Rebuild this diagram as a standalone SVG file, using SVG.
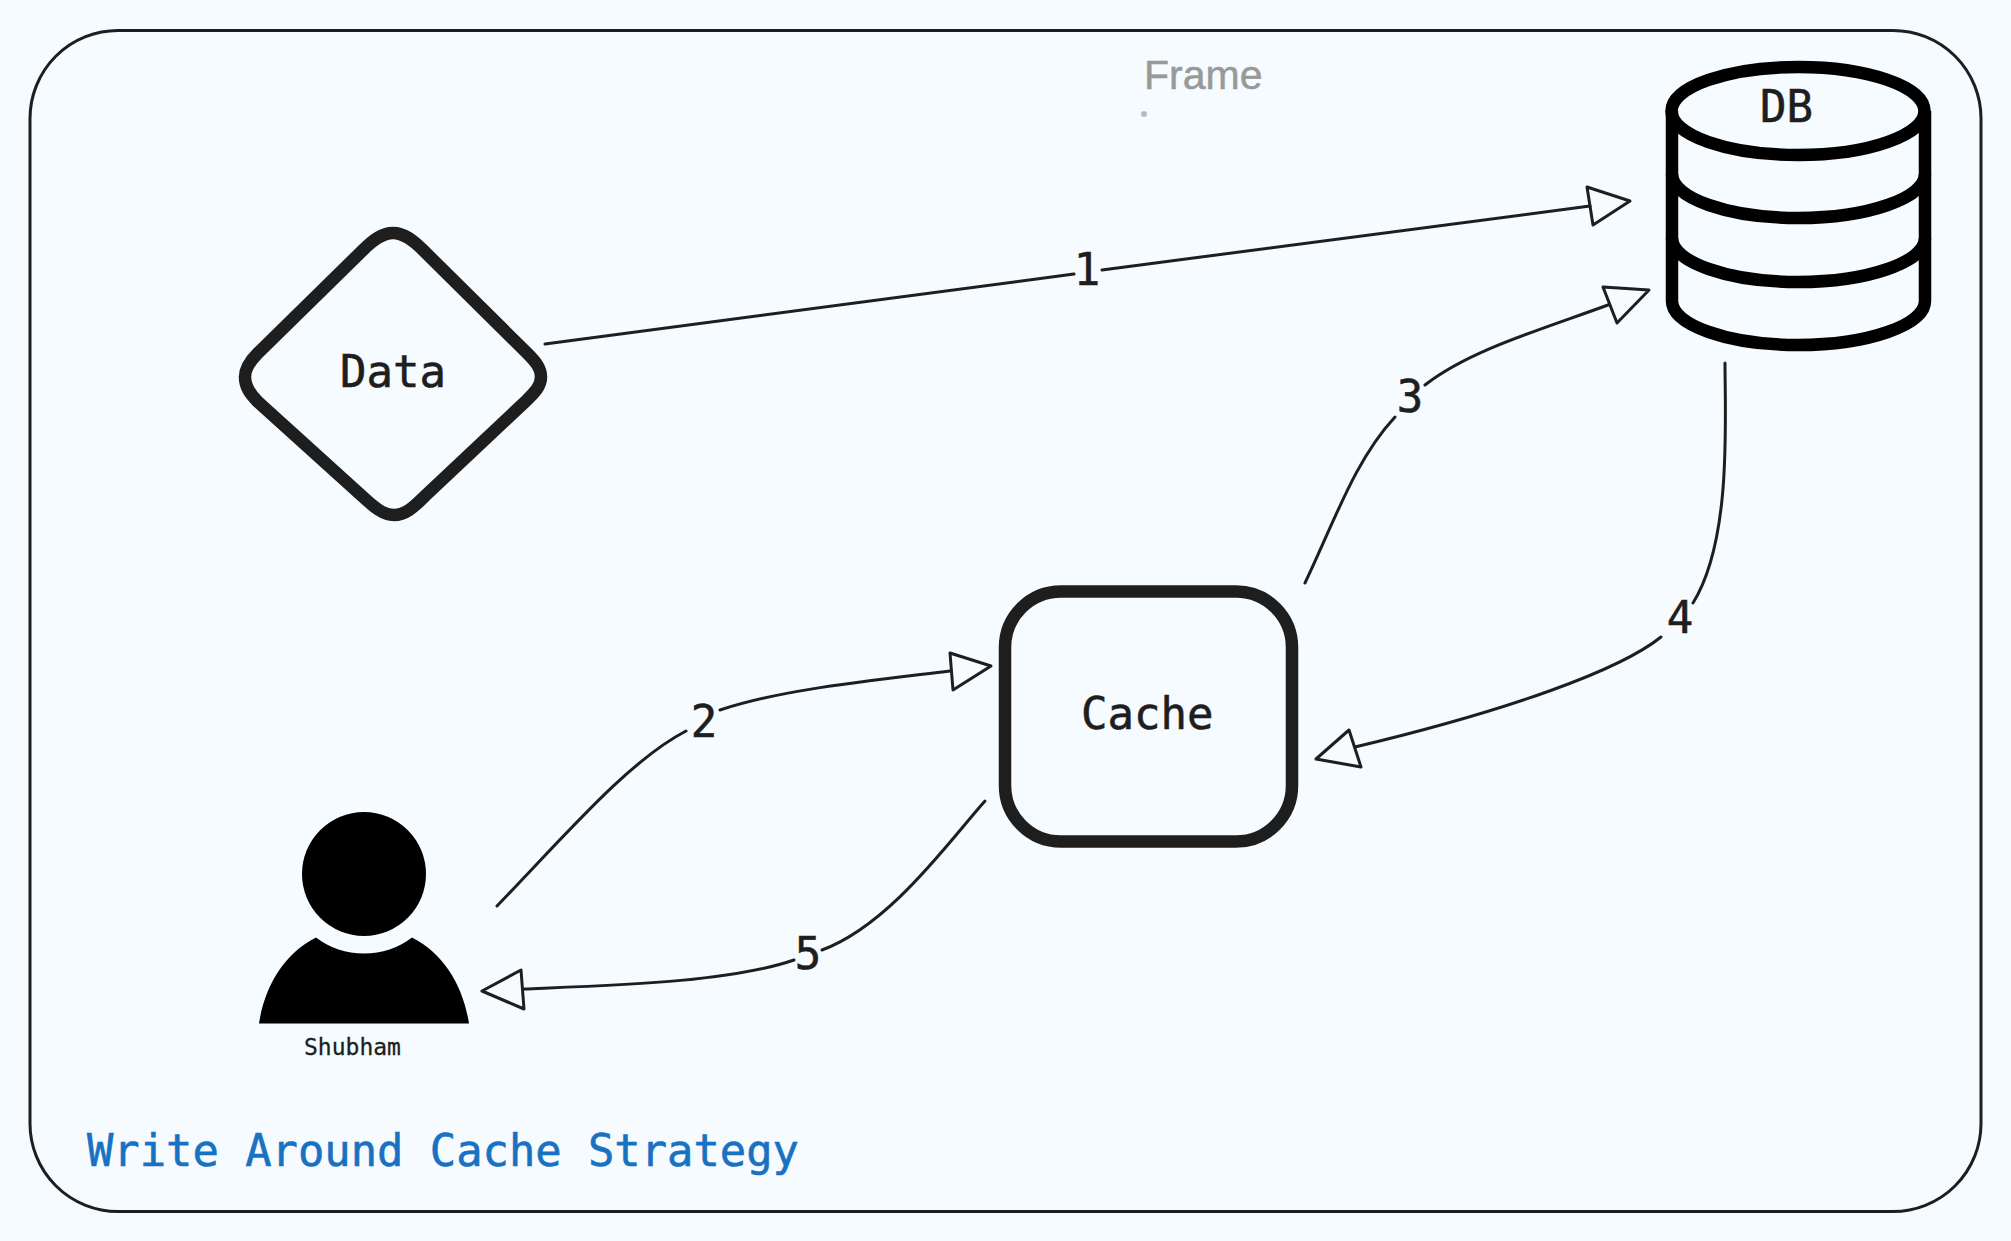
<svg xmlns="http://www.w3.org/2000/svg" width="2011" height="1241" viewBox="0 0 2011 1241">
<style>
.hand{font-family:"DejaVu Sans Mono","Liberation Mono",monospace;fill:#1e1e1e;stroke:#1e1e1e;stroke-width:.6}
.big{font-size:44px}
.mid{text-anchor:middle}
.line{fill:none;stroke:#1e1e1e;stroke-width:3;stroke-linecap:round}
.head{fill:none;stroke:#1e1e1e;stroke-width:3;stroke-linejoin:round}
.shape{fill:none;stroke:#1e1e1e;stroke-width:12.500}
.db{fill:none;stroke:#000;stroke-width:12.500}
</style>
<rect width="2011" height="1241" fill="#f5fbff"/>
<g id="frame">
<rect x="30" y="30.500" width="1951" height="1181" rx="88" ry="88" fill="none" stroke="#1e1e1e" stroke-width="3"/>
<text x="1144" y="89" font-family="Liberation Sans, Arial, sans-serif" font-size="41" fill="#999" stroke="#999" stroke-width=".5">Frame</text>
<circle cx="1144" cy="114" r="3" fill="#bbb"/>
</g>
<g id="node-data">
<path class="shape" d="M393 233C404 233 413 240 423 250L527 353C536 362 541 368 541 377C541 386 535 392 527 400L425 496C413 508 405 515 394 515C383 515 374 507 362 496L258 402C250 394 245 387 245 377C245 368 250 361 258 353L363 250C373 240 382 233 393 233Z"/>
<text class="hand big" x="340" y="387">Data</text>
</g>
<g id="node-db">
<path class="db" d="M1672 111V301C1672 325 1728 345 1798 345C1868 345 1925 325 1925 301V111"/>
<ellipse class="db" cx="1798" cy="111" rx="126.500" ry="44"/>
<path class="db" d="M1672 174C1672 198 1728 218 1798 218C1868 218 1925 198 1925 174"/>
<path class="db" d="M1672 238C1672 262 1728 282 1798 282C1868 282 1925 262 1925 238"/>
<text class="hand big" x="1760" y="122">DB</text>
</g>
<g id="node-cache">
<rect class="shape" x="1005" y="591.500" width="287" height="250" rx="56" ry="56"/>
<text class="hand big" x="1081" y="729">Cache</text>
</g>
<g id="node-user">
<ellipse cx="364" cy="874" rx="62" ry="62"/>
<path d="M259 1023.500C265 985 285 953 316 937.500C330 948 346 953.500 364 953.500C382 953.500 398 948 412 937.500C443 953 463 985 469 1023.500Z"/>
<text class="hand" x="304" y="1055" font-size="23" style="stroke-width:.3">Shubham</text>
</g>
<g id="title">
<text x="87" y="1166" font-family="DejaVu Sans Mono, Liberation Mono, monospace" font-size="43.800" fill="#1971c2" stroke="#1971c2" stroke-width=".6">Write Around Cache Strategy</text>
</g>
<g id="connectors">
<path class="line" d="M545 344L1074 274"/>
<path class="line" d="M1102 270L1590 206"/>
<polygon class="head" points="1630,201 1587,187 1593,225"/>
<text class="hand big mid" x="1087" y="285">1</text>
<path class="line" d="M497 906C570 830 630 760 686 731"/>
<path class="line" d="M720 710C780 690 860 682 950 671"/>
<polygon class="head" points="991,666 950,653 953,690"/>
<text class="hand big mid" x="704" y="737">2</text>
<path class="line" d="M1305 583C1335 520 1355 460 1395 417"/>
<path class="line" d="M1425 385C1470 350 1540 330 1608 305"/>
<polygon class="head" points="1649,290 1603,287 1617,323"/>
<text class="hand big mid" x="1410" y="412">3</text>
<path class="line" d="M1725 363C1725 420 1732 540 1693 603"/>
<path class="line" d="M1661 637C1620 670 1510 710 1355 747"/>
<polygon class="head" points="1316,759 1349,730 1361,767"/>
<text class="hand big mid" x="1680" y="633">4</text>
<path class="line" d="M985 801C950 840 890 925 822 950"/>
<path class="line" d="M794 960C730 982 620 985 524 989"/>
<polygon class="head" points="482,991 521,970 524,1009"/>
<text class="hand big mid" x="808" y="969">5</text>
</g>
</svg>
